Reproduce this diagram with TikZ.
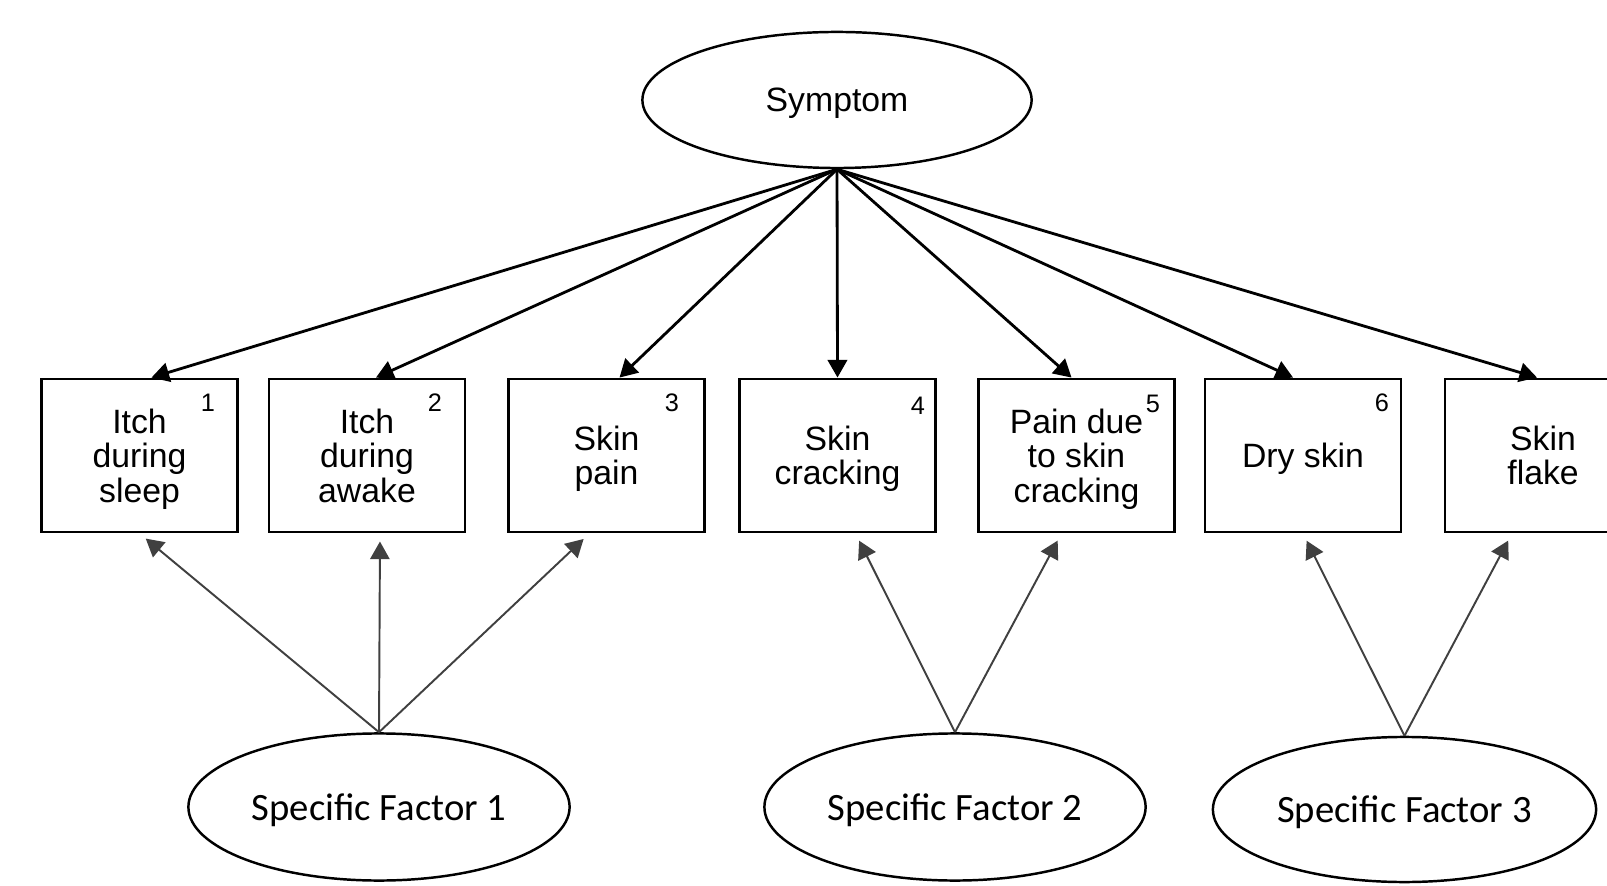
\documentclass[tikz,border=0pt]{standalone}
\usepackage{fontspec}
\setmainfont{Liberation Sans}
\newfontfamily\factorfont{Carlito}
\usepackage{tikz}
\usetikzlibrary{shapes.geometric,arrows.meta}
\tikzset{>={Triangle[length=5pt,width=5.5pt]}}
\tikzset{%
    item/.style={draw, line width=0.8pt, minimum width=1.96cm, minimum height=1.53cm,
        inner sep=0pt, align=center, text depth=0pt, font=\fontsize{9.6}{9.8}\selectfont},
    latent/.style={draw, ellipse, line width=0.7pt, inner sep=0pt, text depth=0pt},
    num/.style={inner sep=0pt, font=\fontsize{7.2}{8}\selectfont},
    load/.style={->, line width=0.8pt},
    spec/.style={->, line width=0.55pt, black!75, shorten >=2.3pt}
}

\begin{document}
\begin{tikzpicture}[x=0.01cm,y=-0.01cm]
\path[fill=white,use as bounding box] (0,0) rectangle (1607,886);
\clip (0,0) rectangle (1607,886);

\node[latent,minimum width=3.89cm,minimum height=1.36cm,font=\fontsize{9.6}{10}\selectfont] (sym) at (837,100) {Symptom};

\node[item] (sleep) at (139.5,455.5) {Itch\\during\\sleep};
\node[item] (awake) at (367,455.5) {Itch\\during\\awake};
\node[item] (pain) at (606.5,455.5) {Skin\\pain};
\node[item] (crack) at (837.5,455.5) {Skin\\cracking};
\node[item] (crackpain) at (1076.5,455.5) {Pain due\\to skin\\cracking};
\node[item] (dry) at (1303,455.5) {Dry skin};
\node[item] (flake) at (1543,455.5) {Skin\\flake};

\node[num] (n1) at (208,403) {1};
\node[num] (n2) at (435,403) {2};
\node[num] (n3) at (672,403) {3};
\node[num] (n4) at (918,406) {4};
\node[num] (n5) at (1153,404) {5};
\node[num] (n6) at (1382,403) {6};

\node[latent,minimum width=3.81cm,minimum height=1.47cm,font=\factorfont\fontsize{11}{12}\selectfont] (f1) at (379,807) {Specific Factor 1};
\node[latent,minimum width=3.81cm,minimum height=1.47cm,font=\factorfont\fontsize{11}{12}\selectfont] (f2) at (955,807) {Specific Factor 2};
\node[latent,minimum width=3.83cm,minimum height=1.45cm,font=\factorfont\fontsize{11}{12}\selectfont] (f3) at (1404.5,809.5) {Specific Factor 3};

% general factor
\draw[load] (sym.south) -- ([xshift=0.12cm]sleep.north);
\draw[load] (sym.south) -- ([xshift=0.09cm]awake.north);
\draw[load] (sym.south) -- ([xshift=0.13cm]pain.north);
\draw[load] (sym.south) -- (crack.north);
\draw[load] (sym.south) -- ([xshift=-0.05cm]crackpain.north);
\draw[load] (sym.south) -- ([xshift=-0.1cm]dry.north);
\draw[load] (sym.south) -- ([xshift=-0.06cm]flake.north);

% specific factors
\draw[spec] (f1.north) -- (sleep.south);
\draw[spec] (f1.north) -- ([xshift=0.13cm]awake.south);
\draw[spec] (f1.north) -- ([xshift=-0.17cm]pain.south);
\draw[spec] (f2.north) -- ([xshift=0.18cm]crack.south);
\draw[spec] (f2.north) -- ([xshift=-0.15cm]crackpain.south);
\draw[spec] (f3.north) -- (dry.south);
\draw[spec] (f3.north) -- ([xshift=-0.31cm]flake.south);
\end{tikzpicture}
\end{document}
